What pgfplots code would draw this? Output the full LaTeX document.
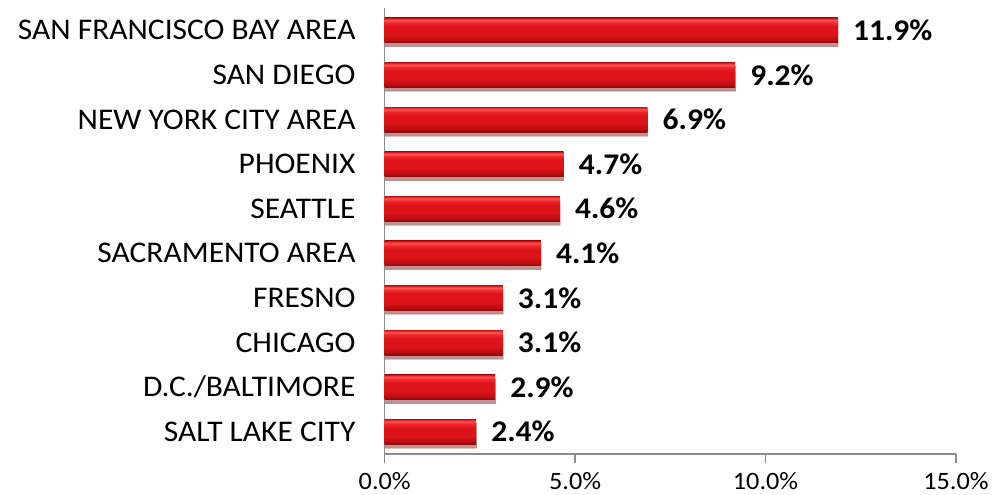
\documentclass[border=0pt]{standalone}
\usepackage{pgfplots}
\pgfplotsset{compat=1.18}
\usepackage{fontspec}
\setmainfont{Carlito}[FakeStretch=1.05]
\usetikzlibrary{shadows}
\definecolor{axgray}{HTML}{8C8C8C}
\definecolor{barA}{HTML}{8E0A0A}
\definecolor{barB}{HTML}{B80D10}
\definecolor{barC}{HTML}{DC1419}
\definecolor{barD}{HTML}{F22A2E}
\definecolor{barE}{HTML}{FF5656}
\definecolor{barF}{HTML}{C21015}
\pgfdeclareverticalshading{barshade}{100bp}{color(0bp)=(barA); color(25bp)=(barA); color(30bp)=(barB); color(42bp)=(barC); color(58bp)=(barC); color(66bp)=(barD); color(70bp)=(barE); color(73bp)=(barD); color(75bp)=(barF); color(100bp)=(barF)}
\pgfplotsset{mybar/.style={xbar, bar shift=0pt, draw=none, shade, shading=barshade,
  drop shadow={shadow xshift=0.5pt, shadow yshift=-4pt, opacity=0.25, fill=black}}}
\begin{document}
\begin{tikzpicture}
\begin{axis}[
  xbar,
  width=571.3pt, height=446pt, scale only axis,
  xmin=0, xmax=15, ymin=-0.5, ymax=9.5, y dir=reverse,
  ytick={0,...,9},
  yticklabels={SAN FRANCISCO BAY AREA, SAN DIEGO, NEW YORK CITY AREA, PHOENIX, SEATTLE, SACRAMENTO AREA, FRESNO, CHICAGO, D.C./BALTIMORE, SALT LAKE CITY},
  xtick={0,5,10,15},
  axis x line*=bottom, axis y line*=left,
  axis line style={axgray, line width=1.3pt, -},
  x tick style={axgray, line width=1.3pt},
  tick align=outside, major tick length=9pt,
  y tick style={draw=none},
  /pgf/number format/assume math mode=true,
  xticklabel={\pgfmathprintnumber[fixed,fixed zerofill,precision=1]{\tick}\%},
  xticklabel style={font=\fontsize{25}{25}\selectfont, inner sep=0pt, anchor=north, yshift=-9pt},
  yticklabel style={font=\fontsize{30}{30}\selectfont, inner sep=0pt, anchor=east, xshift=-20pt},
  bar width=25pt,
  point meta=x,
  nodes near coords={\pgfmathprintnumber[fixed,fixed zerofill,precision=1]{\pgfplotspointmeta}\%},
  nodes near coords style={font=\bfseries\fontsize{30}{30}\selectfont, anchor=west, inner sep=0pt, xshift=15pt, text=black},
  clip=false,
]
\addplot[mybar] coordinates {(11.9,0)};
\addplot[mybar] coordinates {(9.2,1)};
\addplot[mybar] coordinates {(6.9,2)};
\addplot[mybar] coordinates {(4.7,3)};
\addplot[mybar] coordinates {(4.6,4)};
\addplot[mybar] coordinates {(4.1,5)};
\addplot[mybar] coordinates {(3.1,6)};
\addplot[mybar] coordinates {(3.1,7)};
\addplot[mybar] coordinates {(2.9,8)};
\addplot[mybar] coordinates {(2.4,9)};
\end{axis}
\pgfresetboundingbox
\path[use as bounding box] (-384.7pt,-41pt) rectangle (611.3pt,454pt);
\end{tikzpicture}
\end{document}
